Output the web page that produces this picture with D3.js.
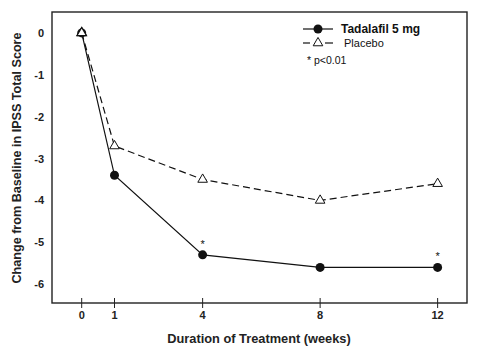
<!DOCTYPE html>
<html><head><meta charset="utf-8">
<script src="https://cdn.jsdelivr.net/npm/d3@7"></script>
<style>body{margin:0;background:#fff}svg{display:block}text{font-family:"Liberation Sans",Arial,sans-serif}</style>
</head><body><svg id="c" width="480" height="361"></svg>
<script>
const weeks = [0, 1, 4, 8, 12];
const tadalafil = [0, -3.4, -5.3, -5.6, -5.6];
const placebo = [0, -2.7, -3.5, -4.0, -3.6];
const significant = [false, false, true, false, true];
const yTicks = [0, -1, -2, -3, -4, -5, -6];
const seriesNames = ["Tadalafil 5 mg", "Placebo"];
const footnote = "* p<0.01";

const svg = d3.select("#c");
const L = 52, T = 12, R = 467, B = 303;
// the source axis stretches the 0–1 interval slightly
const x = d3.scaleLinear().domain([-1, 0, 1, 13]).range([L, 81.7, 114.5, R]);
const y = d3.scaleLinear().domain([0.5, -6.45]).range([T, B]);

svg.append("rect").attr("x", L).attr("y", T).attr("width", R - L).attr("height", B - T)
  .attr("fill", "none").attr("stroke", "#222").attr("stroke-width", 1.4);

const xg = svg.append("g");
weeks.forEach(w => {
  xg.append("line").attr("x1", x(w)).attr("x2", x(w)).attr("y1", B - 5).attr("y2", B + 5)
    .attr("stroke", "#222").attr("stroke-width", 1);
  xg.append("text").attr("x", x(w)).attr("y", B + 16).attr("text-anchor", "middle")
    .attr("font-size", 11).attr("font-weight", "bold").attr("fill", "#222").text(w);
});
const yg = svg.append("g");
yTicks.forEach(t => {
  yg.append("text").attr("x", L - 8).attr("y", y(t) + 4).attr("text-anchor", "end")
    .attr("font-size", 11).attr("font-weight", "bold").attr("fill", "#222").text(t);
});

svg.append("text").attr("x", 259).attr("y", 343).attr("text-anchor", "middle")
  .attr("font-size", 12.8).attr("font-weight", "bold").attr("fill", "#222").text("Duration of Treatment (weeks)");
svg.append("text").attr("transform", "translate(21,158) rotate(-90)").attr("text-anchor", "middle")
  .attr("font-size", 12.6).attr("font-weight", "bold").attr("fill", "#222").text("Change from Baseline in IPSS Total Score");

const line = d3.line().x((d, i) => x(weeks[i])).y(d => y(d));
svg.append("path").attr("d", line(placebo)).attr("fill", "none").attr("stroke", "#111")
  .attr("stroke-width", 1.2).attr("stroke-dasharray", "7,4");
svg.append("path").attr("d", line(tadalafil)).attr("fill", "none").attr("stroke", "#111")
  .attr("stroke-width", 1.2);

const tri = d3.symbol().type(d3.symbolTriangle).size(40);
svg.selectAll(".tri").data(placebo).join("path")
  .attr("transform", (d, i) => `translate(${x(weeks[i])},${y(d)})`)
  .attr("d", tri).attr("fill", "#fff").attr("stroke", "#111").attr("stroke-width", 1);
svg.selectAll(".dot").data(tadalafil).join("circle")
  .attr("cx", (d, i) => x(weeks[i])).attr("cy", d => y(d)).attr("r", 4.5).attr("fill", "#111");
svg.append("path").attr("transform", `translate(${x(weeks[0])},${y(placebo[0])})`)
  .attr("d", tri).attr("fill", "#fff").attr("stroke", "#111").attr("stroke-width", 1.2);

const starPts = weeks.map((w, i) => ({ w, v: tadalafil[i], s: significant[i] })).filter(d => d.s);
svg.selectAll(".star").data(starPts)
  .join("text").attr("x", d => x(d.w)).attr("y", d => y(d.v) - 7).attr("text-anchor", "middle")
  .attr("font-size", 11).attr("fill", "#111").text("*");

const lg = svg.append("g");
lg.append("line").attr("x1", 303).attr("x2", 333).attr("y1", 29).attr("y2", 29).attr("stroke", "#111").attr("stroke-width", 1.2);
lg.append("circle").attr("cx", 318).attr("cy", 29).attr("r", 4.5).attr("fill", "#111");
lg.append("text").attr("x", 341).attr("y", 33).attr("font-size", 12).attr("font-weight", "bold").attr("fill", "#111").text(seriesNames[0]);
lg.append("line").attr("x1", 303).attr("x2", 310).attr("y1", 43).attr("y2", 43).attr("stroke", "#111").attr("stroke-width", 1.2);
lg.append("line").attr("x1", 325).attr("x2", 333).attr("y1", 43).attr("y2", 43).attr("stroke", "#111").attr("stroke-width", 1.2);
lg.append("path").attr("transform", "translate(318,43)").attr("d", tri).attr("fill", "#fff").attr("stroke", "#111").attr("stroke-width", 1);
lg.append("text").attr("x", 344).attr("y", 47).attr("font-size", 11).attr("fill", "#111").text(seriesNames[1]);
lg.append("text").attr("x", 307).attr("y", 64).attr("font-size", 10.5).attr("fill", "#111").text(footnote);
</script></body></html>
